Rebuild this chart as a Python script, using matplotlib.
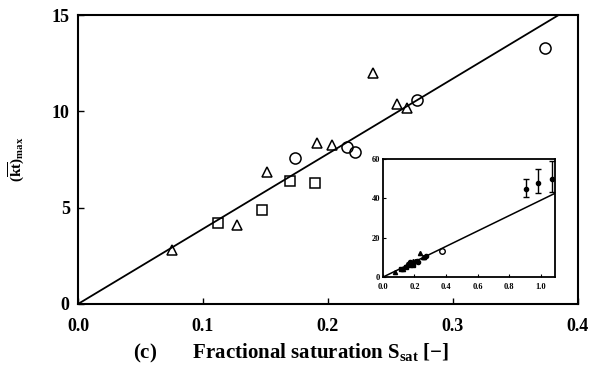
import numpy as np
import matplotlib.pyplot as plt

plt.rcParams['font.family'] = ['Liberation Serif', 'DejaVu Serif']
plt.rcParams['font.weight'] = 'bold'
plt.rcParams['mathtext.fontset'] = 'custom'
plt.rcParams['mathtext.rm'] = 'Liberation Serif:bold'
plt.rcParams['mathtext.it'] = 'Liberation Serif:bold'

# main plot data
tri_x = [0.075, 0.127, 0.151, 0.191, 0.203, 0.236, 0.255, 0.263]
tri_y = [2.8, 4.1, 6.85, 8.35, 8.25, 12.0, 10.4, 10.2]
circ_x = [0.174, 0.215, 0.222, 0.271, 0.374]
circ_y = [7.6, 8.15, 7.9, 10.6, 13.3]
sq_x = [0.112, 0.147, 0.170, 0.190]
sq_y = [4.2, 4.9, 6.4, 6.3]
slope = 39.0

# inset extra data (points with error bars near saturation 1)
eb_x = [0.91, 0.985, 1.07]
eb_y = [45.0, 48.0, 50.0]
eb_lo = [4.5, 5.5, 7.0]
eb_hi = [5.0, 6.7, 9.0]

fig = plt.figure(figsize=(6.05, 3.68), dpi=100)
ax = fig.add_axes([0.129, 0.174, 0.826, 0.785])

xs = np.array([0.0, 0.4])
ax.plot(xs, slope * xs, color='black', lw=1.3)
ax.plot(tri_x, tri_y, '^', mfc='none', mec='black', ms=7, mew=1.1, ls='none')
ax.plot(circ_x, circ_y, 'o', mfc='none', mec='black', ms=8, mew=1.1, ls='none')
ax.plot(sq_x, sq_y, 's', mfc='none', mec='black', ms=7, mew=1.1, ls='none')

ax.set_xlim(0, 0.4)
ax.set_ylim(0, 15)
ax.set_xticks([0.0, 0.1, 0.2, 0.3, 0.4])
ax.set_xticklabels(['0.0', '0.1', '0.2', '0.3', '0.4'])
ax.set_yticks([0, 5, 10, 15])
ax.tick_params(direction='in', length=4, width=1, labelsize=13)
ax.tick_params(axis='x', pad=10)
ax.tick_params(axis='y', pad=6)
for s in ax.spines.values():
    s.set_linewidth(1.5)
ax.set_xlabel(r'(c)       Fractional saturation S$_{\rm sat}$ [$-$]', fontsize=15,
              fontweight='bold', labelpad=5)
ax.xaxis.label.set_x(0.426)
ax.set_ylabel(r'$(\overline{\rm kt})_{\rm max}$', fontsize=11, labelpad=18)

# inset
ins = fig.add_axes([0.633, 0.247, 0.284, 0.321])
xi = np.array([0.0, 1.1])
ins.plot(xi, slope * xi, color='black', lw=1.1)
ins.plot(tri_x, tri_y, '^', color='black', ms=3, ls='none')
ins.plot(sq_x, sq_y, 's', color='black', ms=3, ls='none')
ins.plot(circ_x[:-1], circ_y[:-1], 'o', color='black', ms=3, ls='none')
ins.plot(circ_x[-1:], circ_y[-1:], 'o', mfc='none', mec='black', ms=4, ls='none')
ins.errorbar(eb_x, eb_y, yerr=[eb_lo, eb_hi], fmt='o', color='black', ms=3,
             capsize=2, elinewidth=1)
ins.set_xlim(0, 1.09)
ins.set_ylim(0, 60)
ins.set_xticks([0.0, 0.2, 0.4, 0.6, 0.8, 1.0])
ins.set_yticks([0, 20, 40, 60])
ins.tick_params(direction='in', length=2.5, labelsize=6)
ins.tick_params(axis='x', pad=4)
ins.tick_params(axis='y', pad=2)
for s in ins.spines.values():
    s.set_linewidth(1.3)

fig.savefig('out.png', dpi=100)
